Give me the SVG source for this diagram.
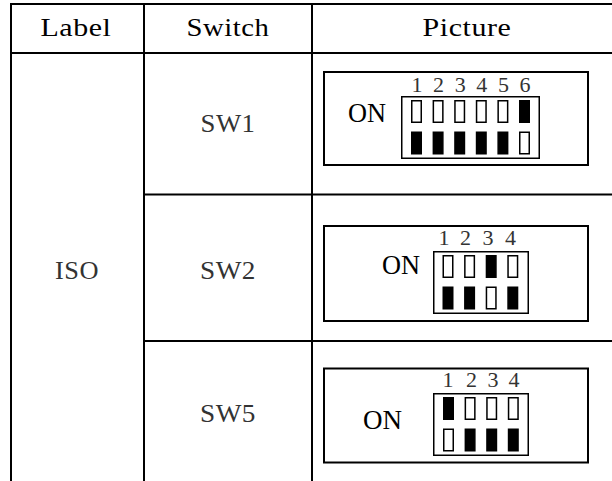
<svg xmlns="http://www.w3.org/2000/svg" width="612" height="481" viewBox="0 0 612 481">
  <style>
    .grid { stroke: #000; stroke-width: 2; fill: none; }
    .hdr { font-family: "Liberation Serif", "DejaVu Serif", serif; font-size: 26px; letter-spacing: 0.5px; fill: #000; text-anchor: middle; }
    .cell { font-family: "Liberation Serif", "DejaVu Serif", serif; font-size: 26px; letter-spacing: 0.5px; fill: #333; text-anchor: middle; }
    .on { font-family: "Liberation Serif", "DejaVu Serif", serif; font-size: 27px; fill: #000; }
    .num { font-family: "Liberation Serif", "DejaVu Serif", serif; font-size: 22px; fill: #333; text-anchor: middle; }
    .box { stroke: #000; stroke-width: 2; fill: #fff; }
    .frame { stroke: #000; stroke-width: 1.5; fill: #fff; }
    .off { stroke: #000; stroke-width: 1.5; fill: #fff; }
    .blk { stroke: #000; stroke-width: 1.5; fill: #000; }
  </style>
  <rect width="612" height="481" fill="#fff"/>

  <g id="table-lines" class="grid">
    <line x1="11" y1="4" x2="612" y2="4"/>
    <line x1="11" y1="53" x2="612" y2="53"/>
    <line x1="144" y1="194.5" x2="612" y2="194.5"/>
    <line x1="144" y1="341" x2="612" y2="341"/>
    <line x1="11" y1="3" x2="11" y2="481"/>
    <line x1="144" y1="3" x2="144" y2="481"/>
    <line x1="312" y1="3" x2="312" y2="481"/>
  </g>

  <g id="header">
    <text class="hdr" x="76" y="36" textLength="71" lengthAdjust="spacingAndGlyphs">Label</text>
    <text class="hdr" x="228" y="36" textLength="83" lengthAdjust="spacingAndGlyphs">Switch</text>
    <text class="hdr" x="467" y="36" textLength="89" lengthAdjust="spacingAndGlyphs">Picture</text>
  </g>

  <g id="label-iso">
    <text class="cell" x="77" y="279" textLength="44" lengthAdjust="spacingAndGlyphs">ISO</text>
  </g>

  <g id="switch-names">
    <text class="cell" x="228" y="132" textLength="55" lengthAdjust="spacingAndGlyphs">SW1</text>
    <text class="cell" x="228" y="279" textLength="56" lengthAdjust="spacingAndGlyphs">SW2</text>
    <text class="cell" x="228" y="422" textLength="56" lengthAdjust="spacingAndGlyphs">SW5</text>
  </g>

  <!-- SW1 picture -->
  <g id="pic-sw1">
    <rect class="box" x="324" y="72" width="264" height="93"/>
    <text class="on" x="348" y="122" textLength="38" lengthAdjust="spacingAndGlyphs">ON</text>
    <g transform="translate(401,96)">
      <text class="num" x="16" y="-4.5">1</text>
      <text class="num" x="37.6" y="-4.5">2</text>
      <text class="num" x="59.2" y="-4.5">3</text>
      <text class="num" x="80.8" y="-4.5">4</text>
      <text class="num" x="102.4" y="-4.5">5</text>
      <text class="num" x="124" y="-4.5">6</text>
      <rect class="frame" x="0.75" y="0.75" width="137.5" height="61.5"/>
      <rect class="off" x="10.75" y="4.75" width="9.5" height="21.5"/>
      <rect class="off" x="32.35" y="4.75" width="9.5" height="21.5"/>
      <rect class="off" x="53.95" y="4.75" width="9.5" height="21.5"/>
      <rect class="off" x="75.55" y="4.75" width="9.5" height="21.5"/>
      <rect class="off" x="97.15" y="4.75" width="9.5" height="21.5"/>
      <rect class="blk" x="118.75" y="4.75" width="9.5" height="21.5"/>
      <rect class="blk" x="10.75" y="36.25" width="9.5" height="21.5"/>
      <rect class="blk" x="32.35" y="36.25" width="9.5" height="21.5"/>
      <rect class="blk" x="53.95" y="36.25" width="9.5" height="21.5"/>
      <rect class="blk" x="75.55" y="36.25" width="9.5" height="21.5"/>
      <rect class="blk" x="97.15" y="36.25" width="9.5" height="21.5"/>
      <rect class="off" x="118.75" y="36.25" width="9.5" height="21.5"/>
    </g>
  </g>

  <!-- SW2 picture -->
  <g id="pic-sw2">
    <rect class="box" x="324" y="226" width="264" height="95"/>
    <text class="on" x="382" y="274" textLength="38" lengthAdjust="spacingAndGlyphs">ON</text>
    <g transform="translate(433,251)">
      <text class="num" x="11" y="-6.5">1</text>
      <text class="num" x="32.6" y="-6.5">2</text>
      <text class="num" x="55" y="-6.5">3</text>
      <text class="num" x="77.5" y="-6.5">4</text>
      <rect class="frame" x="0.75" y="0.75" width="94.5" height="61.5"/>
      <rect class="off" x="10.25" y="4.75" width="9.5" height="21.5"/>
      <rect class="off" x="31.85" y="4.75" width="9.5" height="21.5"/>
      <rect class="blk" x="53.45" y="4.75" width="9.5" height="21.5"/>
      <rect class="off" x="75.05" y="4.75" width="9.5" height="21.5"/>
      <rect class="blk" x="10.25" y="36.25" width="9.5" height="21.5"/>
      <rect class="blk" x="31.85" y="36.25" width="9.5" height="21.5"/>
      <rect class="off" x="53.45" y="36.25" width="9.5" height="21.5"/>
      <rect class="blk" x="75.05" y="36.25" width="9.5" height="21.5"/>
    </g>
  </g>

  <!-- SW5 picture -->
  <g id="pic-sw5">
    <rect class="box" x="324" y="368.5" width="264" height="94"/>
    <text class="on" x="363" y="429" textLength="39" lengthAdjust="spacingAndGlyphs">ON</text>
    <g transform="translate(433,393)">
      <text class="num" x="15" y="-6.3">1</text>
      <text class="num" x="38.5" y="-6.3">2</text>
      <text class="num" x="60" y="-6.3">3</text>
      <text class="num" x="81" y="-6.3">4</text>
      <rect class="frame" x="0.75" y="0.75" width="94.5" height="61.5"/>
      <rect class="blk" x="10.75" y="4.75" width="9.5" height="21.5"/>
      <rect class="off" x="32.35" y="4.75" width="9.5" height="21.5"/>
      <rect class="off" x="53.95" y="4.75" width="9.5" height="21.5"/>
      <rect class="off" x="75.55" y="4.75" width="9.5" height="21.5"/>
      <rect class="off" x="10.75" y="36.25" width="9.5" height="21.5"/>
      <rect class="blk" x="32.35" y="36.25" width="9.5" height="21.5"/>
      <rect class="blk" x="53.95" y="36.25" width="9.5" height="21.5"/>
      <rect class="blk" x="75.55" y="36.25" width="9.5" height="21.5"/>
    </g>
  </g>
</svg>
